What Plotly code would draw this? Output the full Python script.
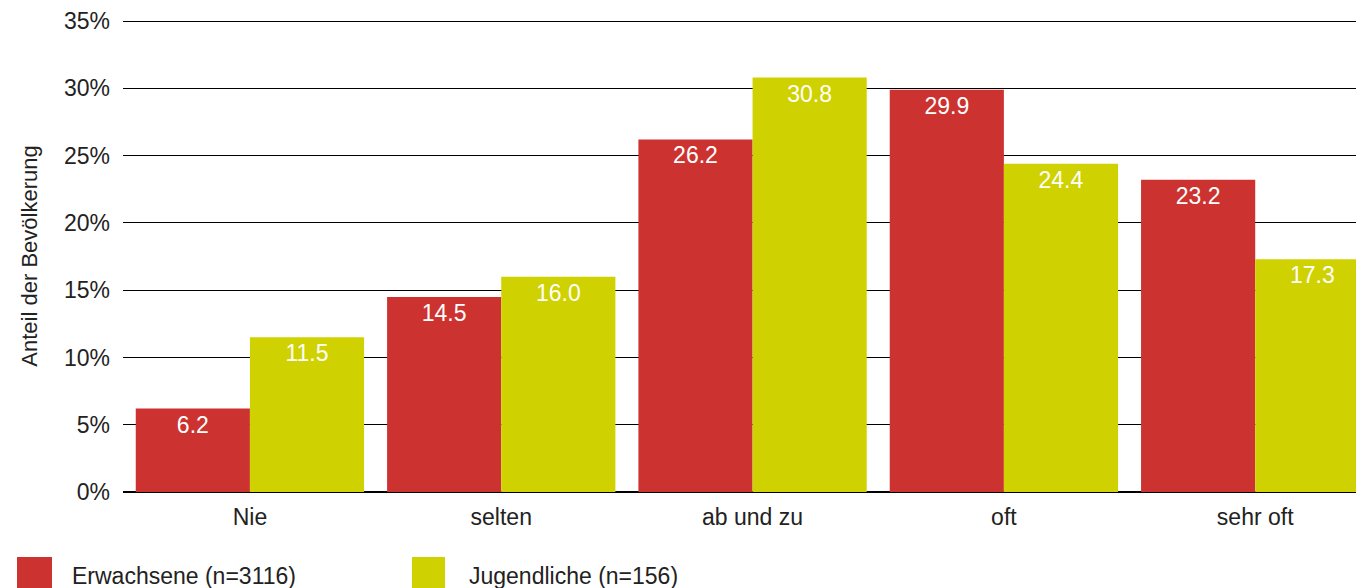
"""Bar chart: Anteil der Bevölkerung nach Häufigkeit (Erwachsene vs. Jugendliche)."""

import plotly.graph_objects as go

# ---------------------------------------------------------------------------
# Data
# ---------------------------------------------------------------------------
categories = ["Nie", "selten", "ab und zu", "oft", "sehr oft"]
erwachsene = [6.2, 14.5, 26.2, 29.9, 23.2]
jugendliche = [11.5, 16.0, 30.8, 24.4, 17.3]
series_names = ["Erwachsene (n=3116)", "Jugendliche (n=156)"]
y_ticks = [0, 5, 10, 15, 20, 25, 30, 35]
y_ticktext = [f"{v}%" for v in y_ticks]

RED = "#CC3330"
YELLOW = "#CFD200"
TEXT = "#222222"
FONT = "Liberation Sans, Arial, sans-serif"
FS = 23

W, H = 1356, 588
M_L, M_R, M_T, M_B = 123, 0, 20, 96


def _px_x(px):
    """Pixel x -> paper x."""
    return (px - M_L) / (W - M_L - M_R)


def _px_y(py):
    """Pixel y -> paper y."""
    return (H - M_B - py) / (H - M_T - M_B)


fig = go.Figure()
for name, vals, col in zip(series_names, [erwachsene, jugendliche], [RED, YELLOW]):
    fig.add_trace(
        go.Bar(
            x=categories,
            y=vals,
            name=name,
            marker=dict(color=col, line=dict(width=0)),
            texttemplate="%{y:.1f}",
            textposition="inside",
            insidetextanchor="end",
            textangle=0,
            constraintext="none",
            textfont=dict(color="white", size=FS, family=FONT),
            showlegend=False,
        )
    )

fig.update_layout(
    width=W,
    height=H,
    margin=dict(l=M_L, r=M_R, t=M_T, b=M_B, autoexpand=False),
    paper_bgcolor="white",
    plot_bgcolor="white",
    font=dict(family=FONT, size=FS, color=TEXT),
    barmode="group",
    bargap=0.0915,
    bargroupgap=0,
    xaxis=dict(
        range=[-0.505, 4.401],
        showgrid=False,
        showline=False,
        ticks="",
        ticklabelstandoff=9,
        tickfont=dict(size=FS),
    ),
    yaxis=dict(
        range=[0, 35.08],
        tickvals=y_ticks,
        ticktext=y_ticktext,
        showgrid=True,
        gridcolor="black",
        gridwidth=1.3,
        zeroline=True,
        zerolinecolor="black",
        zerolinewidth=1.5,
        showline=False,
        ticks="",
        ticklabelstandoff=12,
        tickfont=dict(size=FS),
        title=dict(text="Anteil der Bevölkerung", font=dict(size=FS - 1), standoff=20),
    ),
)

# legend drawn by hand (large square swatches)
legend_items = [(17, 52, 70), (412, 445, 467)]
for (x0, x1, xt), name, col in zip(legend_items, series_names, [RED, YELLOW]):
    fig.add_shape(
        type="rect", xref="paper", yref="paper",
        x0=_px_x(x0), x1=_px_x(x1), y0=_px_y(557), y1=_px_y(600),
        fillcolor=col, line=dict(width=0),
    )
    fig.add_annotation(
        xref="paper", yref="paper", x=_px_x(xt), y=_px_y(576),
        text=name, showarrow=False, xanchor="left", yanchor="middle",
        font=dict(size=FS, family=FONT, color=TEXT),
    )

fig.write_html(
    "out.html",
    config={"displayModeBar": False},
    post_script="document.body.style.margin='0';document.body.style.overflow='hidden';",
)
